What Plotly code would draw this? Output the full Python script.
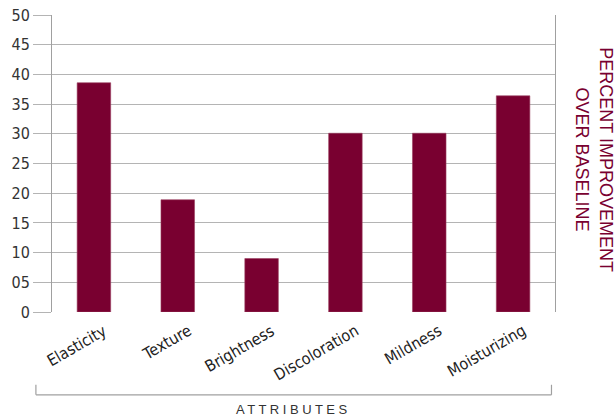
import plotly.graph_objects as go

categories = ["Elasticity", "Texture", "Brightness", "Discoloration", "Mildness", "Moisturizing"]
values = [38.6, 18.9, 9.0, 30.1, 30.1, 36.4]
y_tickvals = [0, 5, 10, 15, 20, 25, 30, 35, 40, 45, 50]
y_ticktext = ["0", "05", "10", "15", "20", "25", "30", "35", "40", "45", "50"]

MAROON = "#790030"
NARROW = "DejaVu Sans Condensed, Liberation Sans Narrow, sans-serif"

fig = go.Figure()
fig.add_trace(go.Bar(
    x=categories, y=values,
    marker=dict(color=MAROON, line=dict(color="#9a4060", width=0.6)),
    width=0.4,
))

fig.update_layout(
    width=616, height=416,
    margin=dict(l=52, r=61, t=15, b=104, autoexpand=False),
    plot_bgcolor="white", paper_bgcolor="white",
    showlegend=False,
    bargap=0.6,
)
fig.update_yaxes(
    range=[0, 50.01], tickvals=y_tickvals, ticktext=y_ticktext,
    showgrid=True, gridcolor="#b4b4b4", gridwidth=1.2,
    ticks="outside", ticklen=18, tickcolor="#b4b4b4", tickwidth=1.2,
    showline=True, linecolor="#a0a0a0", linewidth=1, mirror=True,
    zeroline=False, automargin=False, ticklabeloverflow="allow",
    tickfont=dict(family=NARROW, size=16, color="#333333"),
)
fig.update_xaxes(
    range=[-0.5, len(categories) - 0.5],
    showgrid=False, ticks="", showticklabels=False,
    showline=False, automargin=False,
)

# rotated category labels
for c in categories:
    fig.add_annotation(text=c, x=c, y=0, xref="x", yref="y",
                       showarrow=False, textangle=-30,
                       xanchor="right", yanchor="top", xshift=19, yshift=-6,
                       font=dict(family=NARROW, size=16, color="#222222"))

# bracket under the category labels
fig.add_shape(type="line", xref="paper", yref="paper", x0=-0.032, x1=0.993, y0=-0.279, y1=-0.279,
              line=dict(color="#a0a0a0", width=1.2))
fig.add_shape(type="line", xref="paper", yref="paper", x0=-0.032, x1=-0.032, y0=-0.279, y1=-0.245,
              line=dict(color="#a0a0a0", width=1.2))
fig.add_shape(type="line", xref="paper", yref="paper", x0=0.993, x1=0.993, y0=-0.279, y1=-0.245,
              line=dict(color="#a0a0a0", width=1.2))

fig.add_annotation(text="A T T R I B U T E S",
                   xref="paper", yref="paper", x=0.477, y=-0.327,
                   showarrow=False, xanchor="center", yanchor="middle",
                   font=dict(family="Liberation Sans, Arial, sans-serif", size=13, color="#333333"))

fig.add_annotation(text="PERCENT IMPROVEMENT<br>OVER BASELINE",
                   xref="paper", yref="paper", x=1.077, y=0.512,
                   showarrow=False, textangle=90, xanchor="center", yanchor="middle",
                   font=dict(family="Liberation Sans, Arial, sans-serif", size=18, color=MAROON))

fig.write_html("out.html", config={"displayModeBar": False},
               post_script="document.body.style.margin='0';")
